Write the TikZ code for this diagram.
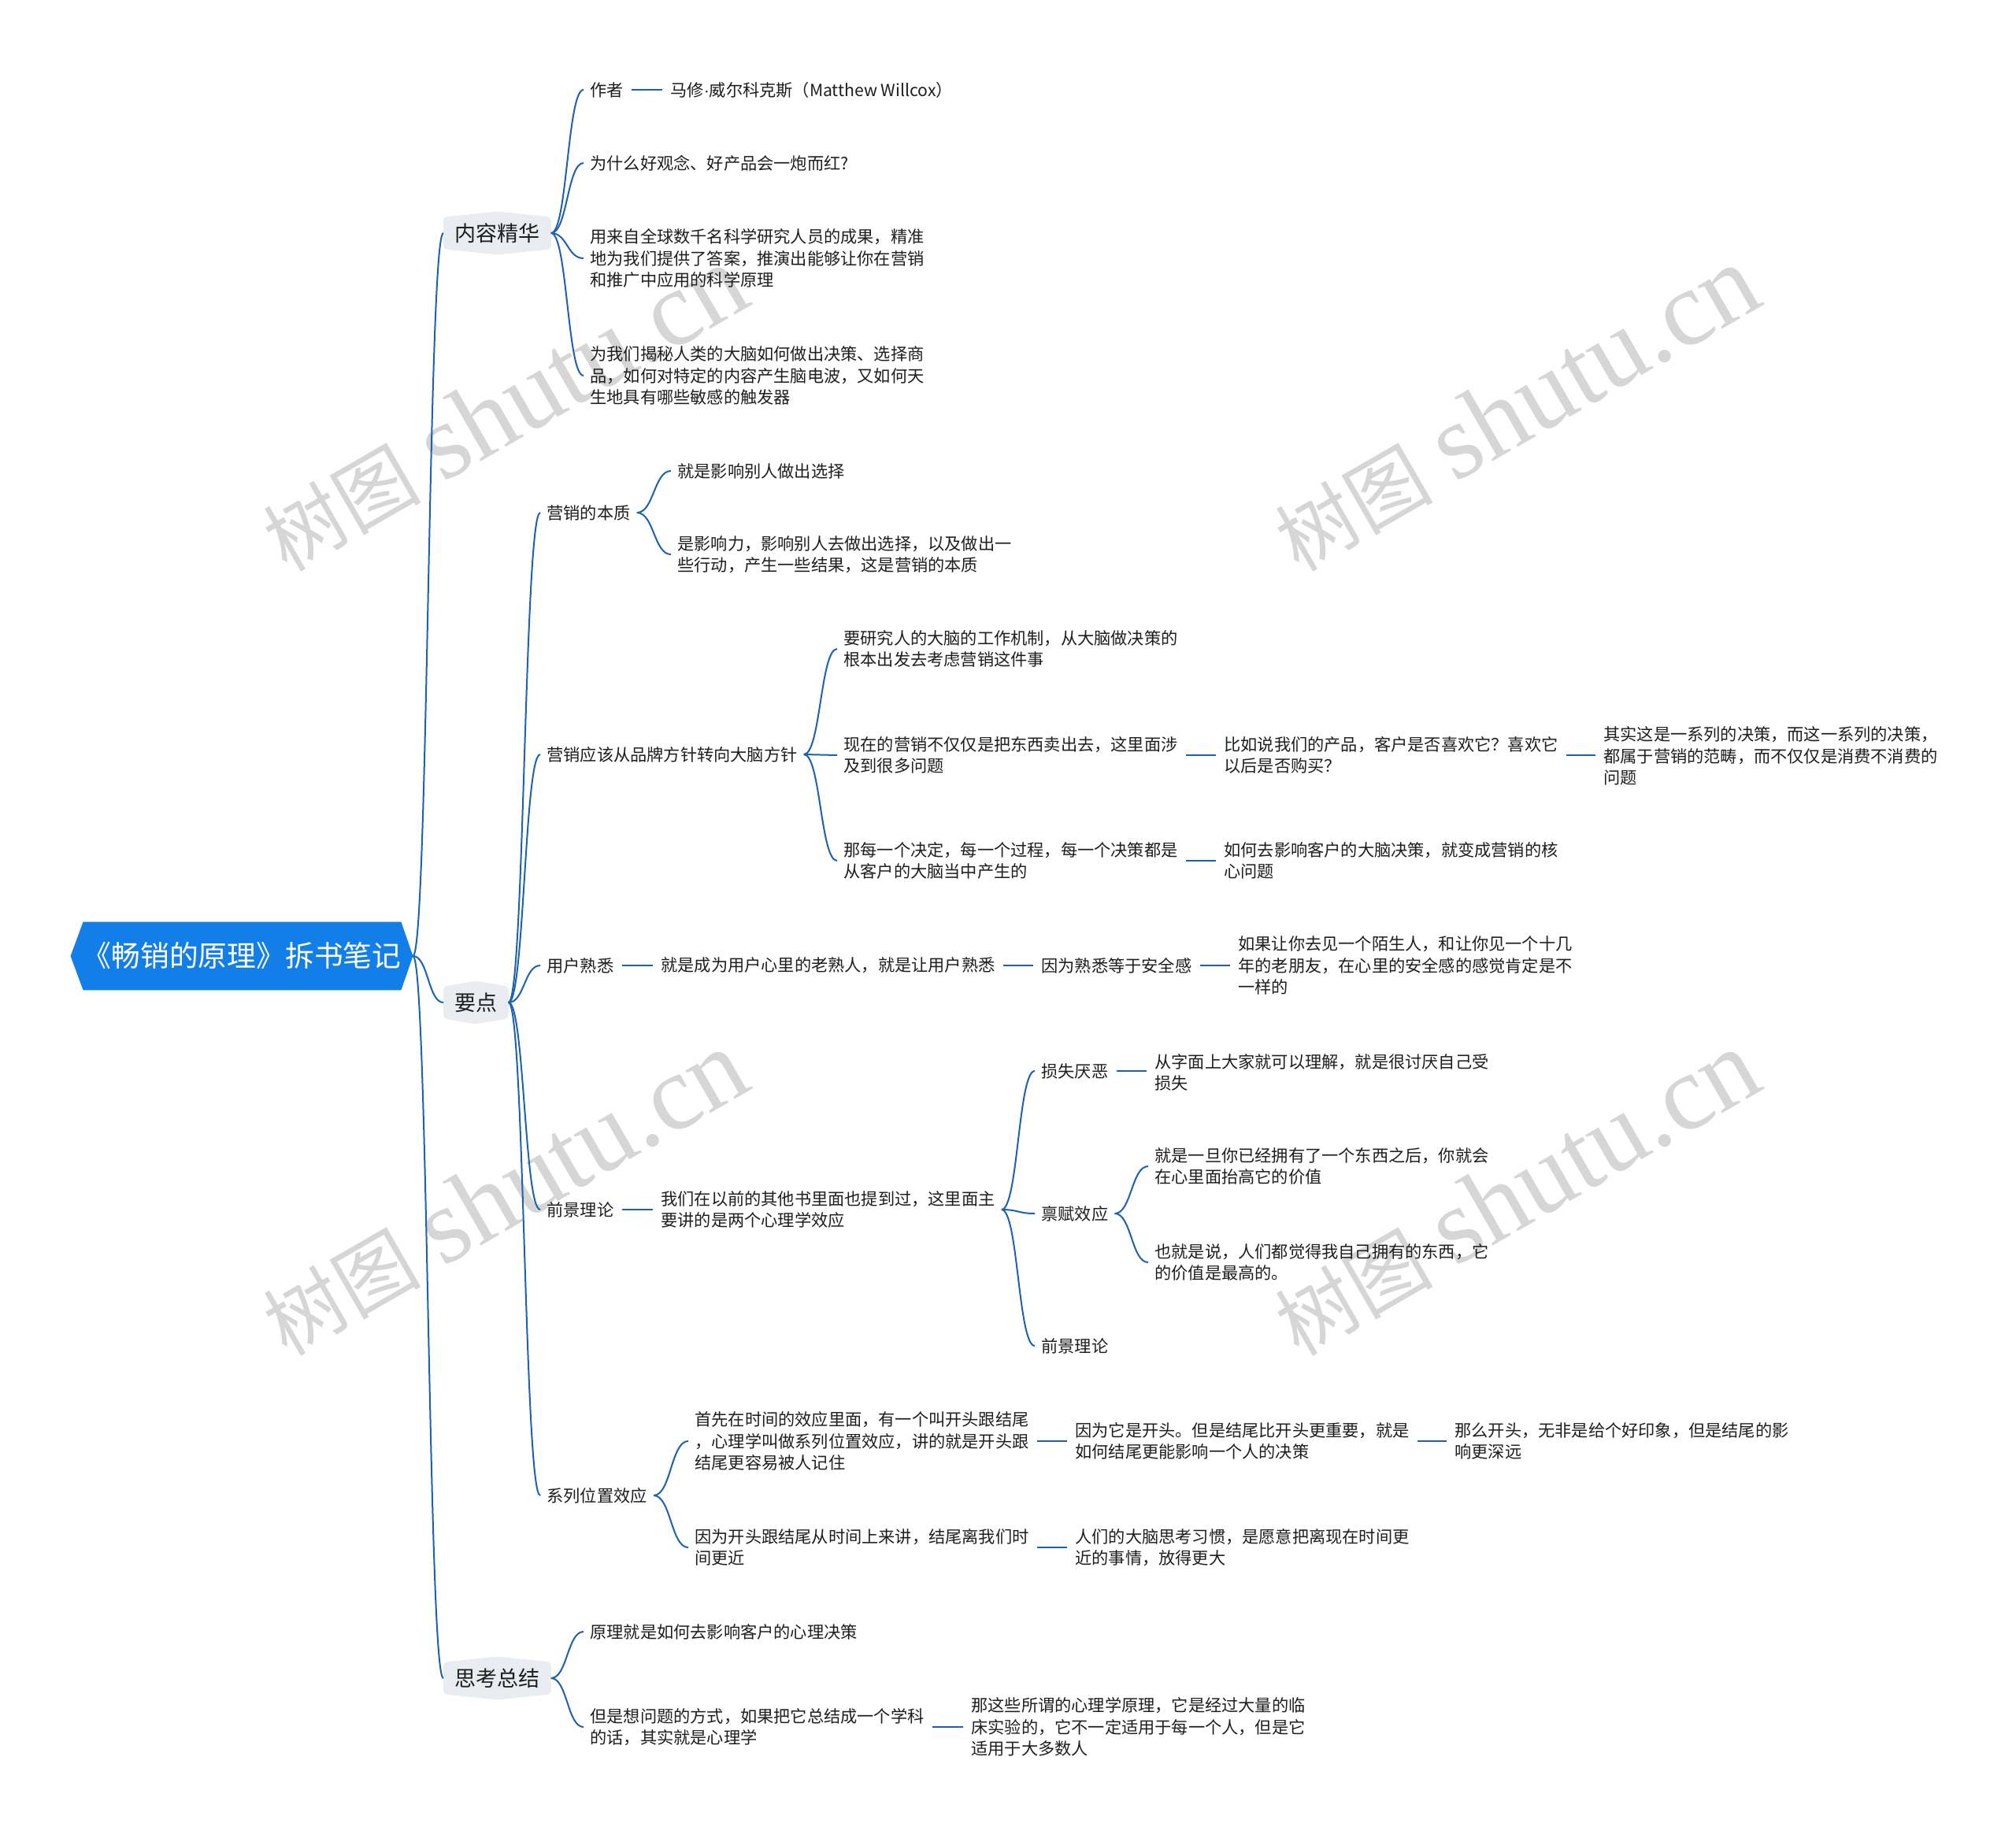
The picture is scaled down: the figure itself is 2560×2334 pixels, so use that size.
\documentclass[tikz,border=0pt]{standalone}
\usepackage{fontspec}
\setmainfont{Noto Sans CJK SC}
\newfontfamily\wmserif{Liberation Serif}
\newfontfamily\dotfont{Liberation Sans}
\usetikzlibrary{calc,backgrounds}
\definecolor{rootblue}{RGB}{18,127,232}
\definecolor{linkblue}{RGB}{28,98,176}
\definecolor{hexbg}{RGB}{233,237,242}
\definecolor{txt}{RGB}{30,30,30}
\definecolor{wmgray}{RGB}{214,214,214}
\tikzset{
  leaf/.style={anchor=west, inner xsep=4pt, inner ysep=2pt, align=left, text=txt,
    font=\fontsize{10.6pt}{13.8pt}\selectfont},
  mainnode/.style={anchor=west, inner xsep=7pt, inner ysep=0pt, minimum height=27pt, text=txt,
    font=\fontsize{13.5pt}{16pt}\selectfont},
  rootnode/.style={minimum width=217pt, minimum height=43pt, inner sep=0pt, text=white,
    font=\fontsize{18.4pt}{22pt}\selectfont},
  curve/.style={draw=linkblue, line width=1pt},
  straight/.style={draw=linkblue, line width=1.3pt, shorten >=1pt, shorten <=1pt},
  wmark/.style={text=wmgray, rotate=30, inner sep=0pt, font=\fontsize{50pt}{50pt}\selectfont}
}
\newcommand\mmlink[2]{\draw[curve] (#1.east) .. controls ($(#1.east)!0.5!(#2.west |- #1.east)$) and ($(#2.west)!0.5!(#1.east |- #2.west)$) .. (#2.west);}
\newcommand\mmline[2]{\draw[straight] (#1.east) -- (#1.east -| #2.west);}
\newcommand\wmtext{树图\hspace{14pt}{\wmserif\fontsize{68pt}{68pt}\selectfont shutu.cn}}
\begin{document}
\begin{tikzpicture}[x=0.5pt,y=-0.5pt]
\useasboundingbox (0,0) rectangle (2560,2334);

% watermarks
\node[wmark] (w1) at (640,519) {\wmtext};
\node[wmark] (w2) at (1925,519) {\wmtext};
\node[wmark] (w3) at (640,1515) {\wmtext};
\node[wmark] (w4) at (1925,1515) {\wmtext};

% root and main branches
\node[rootnode] (root) at (307,1214) {《畅销的原理》拆书笔记};
\node[mainnode] (k1) at (563,296) {内容精华};
\node[mainnode] (k2) at (563,1273) {要点};
\node[mainnode] (k3) at (563,2131) {思考总结};

% 内容精华
\node[leaf] (a1) at (741,114) {作者};
\node[leaf] (a1b) at (843,114) {马修{\dotfont ·}威尔科克斯（Matthew Willcox）};
\node[leaf] (a2) at (741,207) {为什么好观念、好产品会一炮而红?};
\node[leaf] (a3) at (741,328) {用来自全球数千名科学研究人员的成果，精准\\地为我们提供了答案，推演出能够让你在营销\\和推广中应用的科学原理};
\node[leaf] (a4) at (741,477) {为我们揭秘人类的大脑如何做出决策、选择商\\品，如何对特定的内容产生脑电波，又如何天\\生地具有哪些敏感的触发器};

% 要点
\node[leaf] (b1) at (686,651) {营销的本质};
\node[leaf] (b11) at (852,598) {就是影响别人做出选择};
\node[leaf] (b12) at (852,704) {是影响力，影响别人去做出选择，以及做出一\\些行动，产生一些结果，这是营销的本质};

\node[leaf] (b2) at (686,958) {营销应该从品牌方针转向大脑方针};
\node[leaf] (b21) at (1063,824) {要研究人的大脑的工作机制，从大脑做决策的\\根本出发去考虑营销这件事};
\node[leaf] (b22) at (1063,959) {现在的营销不仅仅是把东西卖出去，这里面涉\\及到很多问题};
\node[leaf] (b221) at (1546,959) {比如说我们的产品，客户是否喜欢它？喜欢它\\以后是否购买？};
\node[leaf] (b2211) at (2028,960) {其实这是一系列的决策，而这一系列的决策，\\都属于营销的范畴，而不仅仅是消费不消费的\\问题};
\node[leaf] (b23) at (1063,1093) {那每一个决定，每一个过程，每一个决策都是\\从客户的大脑当中产生的};
\node[leaf] (b231) at (1546,1093) {如何去影响客户的大脑决策，就变成营销的核\\心问题};

\node[leaf] (b3) at (686,1226) {用户熟悉};
\node[leaf] (b31) at (831,1226) {就是成为用户心里的老熟人，就是让用户熟悉};
\node[leaf] (b311) at (1314,1226) {因为熟悉等于安全感};
\node[leaf] (b3111) at (1564,1226) {如果让你去见一个陌生人，和让你见一个十几\\年的老朋友，在心里的安全感的感觉肯定是不\\一样的};

\node[leaf] (b4) at (686,1536) {前景理论};
\node[leaf] (b41) at (831,1536) {我们在以前的其他书里面也提到过，这里面主\\要讲的是两个心理学效应};
\node[leaf] (b411) at (1314,1360) {损失厌恶};
\node[leaf] (b4111) at (1458,1362) {从字面上大家就可以理解，就是很讨厌自己受\\损失};
\node[leaf] (b412) at (1314,1541) {禀赋效应};
\node[leaf] (b4121) at (1458,1481) {就是一旦你已经拥有了一个东西之后，你就会\\在心里面抬高它的价值};
\node[leaf] (b4122) at (1458,1603) {也就是说，人们都觉得我自己拥有的东西，它\\的价值是最高的。};
\node[leaf] (b413) at (1314,1709) {前景理论};

\node[leaf] (b5) at (686,1899) {系列位置效应};
\node[leaf] (b51) at (874,1830) {首先在时间的效应里面，有一个叫开头跟结尾\\，心理学叫做系列位置效应，讲的就是开头跟\\结尾更容易被人记住};
\node[leaf] (b511) at (1357,1830) {因为它是开头。但是结尾比开头更重要，就是\\如何结尾更能影响一个人的决策};
\node[leaf] (b5111) at (1839,1830) {那么开头，无非是给个好印象，但是结尾的影\\响更深远};
\node[leaf] (b52) at (874,1965) {因为开头跟结尾从时间上来讲，结尾离我们时\\间更近};
\node[leaf] (b521) at (1357,1965) {人们的大脑思考习惯，是愿意把离现在时间更\\近的事情，放得更大};

% 思考总结
\node[leaf] (c1) at (741,2072) {原理就是如何去影响客户的心理决策};
\node[leaf] (c2) at (741,2193) {但是想问题的方式，如果把它总结成一个学科\\的话，其实就是心理学};
\node[leaf] (c21) at (1225,2193) {那这些所谓的心理学原理，它是经过大量的临\\床实验的，它不一定适用于每一个人，但是它\\适用于大多数人};

% backgrounds of page, root and main nodes
\begin{scope}[on background layer]
\fill[white] (0,0) rectangle (2560,2334);
\fill[rootblue] (root.west) -- ($(root.north west)+(16,0)$) -- ($(root.north east)+(-15,0)$) -- (root.east)
  -- ($(root.south east)+(-15,0)$) -- ($(root.south west)+(16,0)$) -- cycle;
\foreach \k in {k1,k2,k3}{
  \fill[hexbg, rounded corners=2.5pt] ($(\k.north west)+(0,7)$) -- (\k.north) -- ($(\k.north east)+(0,7)$)
    -- ($(\k.south east)+(0,-7)$) -- (\k.south) -- ($(\k.south west)+(0,-7)$) -- cycle;
}
\end{scope}

% connectors
\mmlink{root}{k1}
\mmlink{root}{k2}
\mmlink{root}{k3}

\mmlink{k1}{a1}
\mmlink{k1}{a2}
\mmlink{k1}{a3}
\mmlink{k1}{a4}
\mmline{a1}{a1b}

\mmlink{k2}{b1}
\mmlink{k2}{b2}
\mmlink{k2}{b3}
\mmlink{k2}{b4}
\mmlink{k2}{b5}

\mmlink{b1}{b11}
\mmlink{b1}{b12}

\mmlink{b2}{b21}
\mmlink{b2}{b22}
\mmlink{b2}{b23}
\mmline{b22}{b221}
\mmline{b221}{b2211}
\mmline{b23}{b231}

\mmline{b3}{b31}
\mmline{b31}{b311}
\mmline{b311}{b3111}

\mmline{b4}{b41}
\mmlink{b41}{b411}
\mmlink{b41}{b412}
\mmlink{b41}{b413}
\mmline{b411}{b4111}
\mmlink{b412}{b4121}
\mmlink{b412}{b4122}

\mmlink{b5}{b51}
\mmlink{b5}{b52}
\mmline{b51}{b511}
\mmline{b511}{b5111}
\mmline{b52}{b521}

\mmlink{k3}{c1}
\mmlink{k3}{c2}
\mmline{c2}{c21}
\end{tikzpicture}
\end{document}
